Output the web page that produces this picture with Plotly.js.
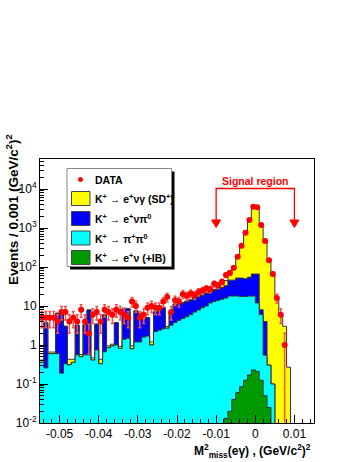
<!DOCTYPE html>
<html>
<head>
<meta charset="utf-8">
<script src="https://cdn.plot.ly/plotly-3.0.1.min.js"></script>
<style>
  html, body { margin: 0; padding: 0; background: #fff; }
  #plot { width: 357px; height: 462px; }
</style>
</head>
<body>
<div id="plot"></div>
<script>
// histogram binning: 70 bins of 0.001 (GeV/c^2)^2
const binLo = -0.055;
const binWidth = 0.001;
const nBins = 70;

const dataCounts = [
  5, 5, 5, 5, 4, 7, 7, 4, 5, 4,
  8, 4, 2, 6, 7, 4, 8, 7, 6, 8,
  7, 6, 5, 13, 10, 5, 6, 9, 10, 9,
  9, 13, 17, 7, 14, 13, 20, 18, 21, 19,
  23, 25, 28, 27, 37, 34, 42, 62, 71, 96,
  184, 350, 760, 1600, 3500, 3400, 1190, 465, 150, 66,
  16, 6, 1, 0, 0, 0, 0, 0, 0, 0
];

// K+ -> e+ nu (+IB), bottom of the stack
const ibEvents = [
  0, 0, 0, 0, 0, 0, 0, 0, 0, 0,
  0, 0, 0, 0, 0, 0, 0, 0, 0, 0,
  0, 0, 0, 0, 0, 0, 0, 0, 0, 0,
  0, 0, 0, 0, 0, 0, 0, 0, 0, 0,
  0, 0, 0, 0, 0, 0, 0, 0.013, 0.02, 0.04,
  0.06, 0.085, 0.125, 0.17, 0.23, 0.21, 0.125, 0.05, 0.025, 0,
  0, 0, 0, 0, 0, 0, 0, 0, 0, 0
];

// K+ -> pi+ pi0
const pipiEvents = [
  0.36, 0.26, 0.6, 0.6, 0.6, 0.19, 0.33, 0.31, 0.36, 0.56,
  0.5, 0.56, 0.56, 0.41, 0.75, 0.33, 0.67, 0.85, 0.95, 1.0,
  0.82, 1.4, 1.5, 0.8, 1.2, 1.2, 1.6, 1.7, 1.0, 2.2,
  2.4, 2.6, 2.7, 3.2, 3.8, 4.3, 4.8, 5.3, 6.0, 7.0,
  7.9, 9, 10, 12, 13, 14, 15, 16, 18, 18,
  18, 17.4, 17.4, 17.8, 17.8, 11.8, 5.9, 0.5, 0.28, 0.1,
  0, 0, 0, 0, 0, 0, 0, 0, 0, 0
];

// K+ -> e+ nu pi0
const enupiEvents = [
  0, 3.44, 0, 0, 5.9, 6.1, 2.67, 0, 0, 2.64,
  0, 2.74, 7.34, 0, 2.65, 0, 5.23, 0, 0, 2.7,
  0, 7.3, 7.0, 0, 6.3, 5.3, 2.9, 3.3, 0, 4.8,
  5.1, 6.4, 0, 3.8, 7.2, 6.7, 7.2, 7.7, 8, 9,
  9.1, 10, 11, 10, 12, 13, 15, 17, 28, 28,
  34, 34.5, 32.5, 37, 48, 54, 2, 3.45, 0, 0,
  0, 0, 0, 0, 0, 0, 0, 0, 0, 0
];

// K+ -> e+ nu gamma (SD+), top of the stack
const sdEvents = [
  0.05, 0.05, 0.06, 0.06, 0.05, 0.05, 0.05, 0.12, 0.07, 0.06,
  0.07, 0.05, 0.05, 0.06, 0.06, 0.1, 0.06, 0.1, 0.1, 0.06,
  0.1, 0.08, 0.08, 0.15, 0.08, 0.1, 0.1, 0.1, 0.2, 0.15,
  0.15, 0.2, 0.3, 0.3, 0.3, 0.35, 0.4, 0.45, 0.5, 0.6,
  0.7, 0.8, 0.9, 1.2, 1.5, 2.5, 5, 12, 16, 44,
  118, 278, 650, 1445, 3234, 3034, 1192, 446, 160, 60,
  16, 6, 3, 0.27, 0, 0, 0, 0, 0, 0
];

const xTickVals = [-0.05, -0.04, -0.03, -0.02, -0.01, 0, 0.01];
const xTickText = ['-0.05', '-0.04', '-0.03', '-0.02', '-0.01', '0', '0.01'];
const yTickVals = [0.01, 0.1, 1, 10, 100, 1000, 10000];
const yTickText = ['10<sup>-2</sup>', '10<sup>-1</sup>', '1', '10', '10<sup>2</sup>', '10<sup>3</sup>', '10<sup>4</sup>'];

const legendLabels = [
  'DATA',
  'K<sup>+</sup> → e<sup>+</sup>νγ (SD<sup>+</sup>)',
  'K<sup>+</sup> → e<sup>+</sup>νπ<sup>0</sup>',
  'K<sup>+</sup> → π<sup>+</sup>π<sup>0</sup>',
  'K<sup>+</sup> → e<sup>+</sup>ν (+IB)'
];

const FONT = 'Liberation Sans, Arial, Helvetica, sans-serif';

// bottom -> top
const stack = [
  { vals: ibEvents, color: '#009900' },
  { vals: pipiEvents, color: '#00ffff' },
  { vals: enupiEvents, color: '#0000ff' },
  { vals: sdEvents, color: '#ffff00' }
];

let running = new Array(nBins).fill(0);
stack.forEach(s => {
  running = running.map((v, i) => v + s.vals[i]);
  s.cum = running.slice();
});

function stepTrace(cum, color) {
  const xs = [], ys = [];
  for (let i = 0; i <= nBins; i++) {
    xs.push(binLo + i * binWidth);
    // empty bins drop below the axis
    ys.push(Math.max(cum[Math.min(i, nBins - 1)], 1e-5));
  }
  return {
    x: xs, y: ys, mode: 'lines',
    line: { shape: 'hv', color: '#333', width: 1 },
    fill: 'tozeroy', fillcolor: color,
    hoverinfo: 'skip', showlegend: false
  };
}

const traces = stack.slice().reverse().map(s => stepTrace(s.cum, s.color));

const dx = [], dy = [];
dataCounts.forEach((n, i) => {
  if (n > 0) {
    dx.push(binLo + (i + 0.5) * binWidth);
    dy.push(n);
  }
});
traces.push({
  x: dx, y: dy, mode: 'markers', type: 'scatter',
  marker: { color: '#ff0000', size: 6 },
  error_y: { type: 'sqrt', color: '#ff4d4d', thickness: 1.5, width: 1.5 },
  error_x: { type: 'constant', value: binWidth / 2, color: '#ff4d4d', thickness: 1.5, width: 0 },
  hoverinfo: 'skip', showlegend: false
});

// plot area in pixels (for placing the hand-made legend and bracket)
const L = 40, R = 314, T = 159, B = 423;
const px = v => (v - L) / (R - L);
const py = v => (B - v) / (B - T);

const shapes = [];
const annotations = [];

// legend box with ROOT-style shadow
shapes.push({ type: 'rect', xref: 'paper', yref: 'paper', x0: px(70), x1: px(174.5), y0: py(171.5), y1: py(269.5),
  fillcolor: '#000', line: { width: 0 }, layer: 'above' });
shapes.push({ type: 'rect', xref: 'paper', yref: 'paper', x0: px(67), x1: px(171.5), y0: py(168.5), y1: py(266.5),
  fillcolor: '#fff', line: { color: '#888', width: 1 }, layer: 'above' });

const rowY = [179.5, 198.5, 218.5, 238, 257.5];
const boxColors = [null, '#ffff00', '#0000ff', '#00ffff', '#009900'];
rowY.forEach((y, k) => {
  if (boxColors[k]) {
    shapes.push({ type: 'rect', xref: 'paper', yref: 'paper', x0: px(71.5), x1: px(90), y0: py(y + 7), y1: py(y - 7),
      fillcolor: boxColors[k], line: { color: '#444', width: 1 }, layer: 'above' });
  } else {
    shapes.push({ type: 'circle', xref: 'paper', yref: 'paper', x0: px(78.5), x1: px(82.5), y0: py(y + 2), y1: py(y - 2),
      fillcolor: '#ff0000', line: { color: '#ff0000', width: 1 }, layer: 'above' });
  }
  annotations.push({ xref: 'paper', yref: 'paper', x: px(93), y: py(y), xanchor: 'left', yanchor: 'middle',
    text: '<b>' + legendLabels[k] + '</b>', showarrow: false, font: { family: FONT, size: 10.5, color: '#000' } });
});

// signal region bracket: x in data units, y in paper units
const sigLo = -0.01, sigHi = 0.01;
const barY = py(188.5), stemY = py(220), tipY = py(227.5);
shapes.push({ type: 'path', xref: 'x', yref: 'paper',
  path: `M ${sigLo},${stemY} L ${sigLo},${barY} L ${sigHi},${barY} L ${sigHi},${stemY}`,
  line: { color: '#ff0000', width: 1.3 } });
[sigLo, sigHi].forEach(x0 => {
  shapes.push({ type: 'path', xref: 'x', yref: 'paper',
    path: `M ${x0 - 0.00115},${stemY} L ${x0 + 0.00115},${stemY} L ${x0},${tipY} Z`,
    fillcolor: '#ff0000', line: { color: '#ff0000', width: 1 } });
});
annotations.push({ xref: 'x', yref: 'paper', x: 0, y: py(181), text: '<b>Signal region</b>', showarrow: false,
  xanchor: 'center', yanchor: 'middle', font: { family: FONT, size: 10.5, color: '#ff0000' } });

// axis titles, ROOT-aligned to the axis ends
annotations.push({ xref: 'paper', yref: 'paper', x: px(313), y: py(451), xanchor: 'right', yanchor: 'middle',
  text: '<b>M<sup>2</sup><sub>miss</sub>(eγ) , (GeV/c<sup>2</sup>)<sup>2</sup></b>', showarrow: false,
  font: { family: FONT, size: 12, color: '#000' } });
annotations.push({ xref: 'paper', yref: 'paper', x: px(12), y: py(210), xanchor: 'center', yanchor: 'middle',
  textangle: -90, text: '<b>Events / 0.001 (GeV/c<sup>2</sup>)<sup>2</sup></b>', showarrow: false,
  font: { family: FONT, size: 13.5, color: '#000' } });

var layout = {
  width: 357, height: 462,
  margin: { l: L, r: 357 - R, t: T, b: 462 - B },
  paper_bgcolor: '#fff', plot_bgcolor: '#fff',
  font: { family: FONT, size: 12, color: '#000' },
  showlegend: false,
  xaxis: {
    range: [binLo, binLo + nBins * binWidth],
    tickmode: 'array', tickvals: xTickVals, ticktext: xTickText,
    ticks: 'inside', ticklen: 8, tickcolor: '#000',
    minor: { tickmode: 'linear', tick0: 0, dtick: 0.002, ticks: 'inside', ticklen: 4, tickcolor: '#000' },
    showgrid: false, zeroline: false,
    showline: true, mirror: true, linecolor: '#000', linewidth: 1,
    tickfont: { family: FONT, size: 12 }
  },
  yaxis: {
    type: 'log', range: [-2, 4.77],
    tickmode: 'array', tickvals: yTickVals, ticktext: yTickText,
    ticks: 'inside', ticklen: 8, tickcolor: '#000',
    minor: { dtick: 'D1', ticks: 'inside', ticklen: 4, tickcolor: '#000' },
    showgrid: false, zeroline: false,
    showline: true, mirror: true, linecolor: '#000', linewidth: 1,
    tickfont: { family: FONT, size: 12 }
  },
  shapes: shapes,
  annotations: annotations
};

Plotly.newPlot('plot', traces, layout, { displayModeBar: false, staticPlot: true });
</script>
</body>
</html>
